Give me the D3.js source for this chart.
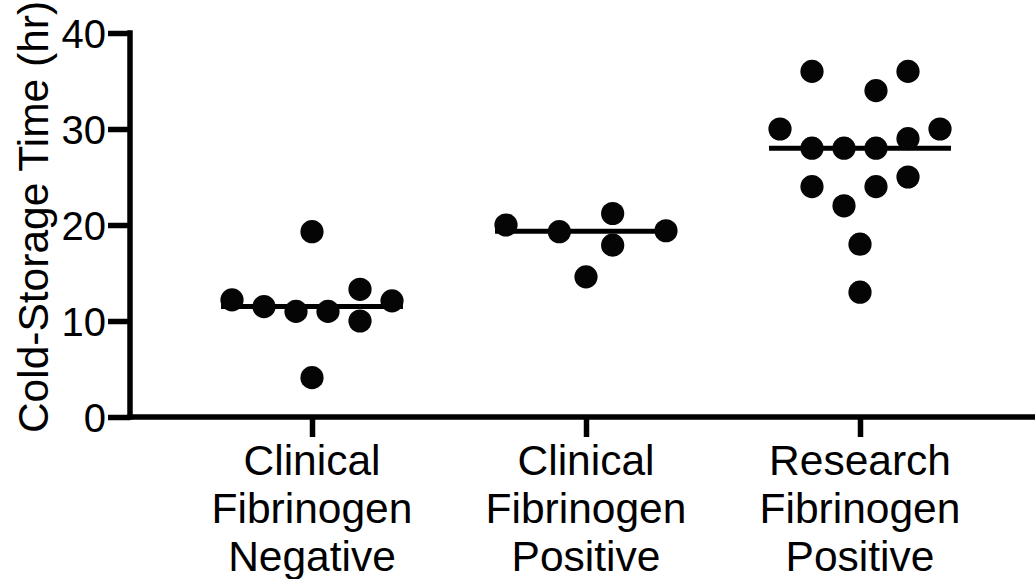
<!DOCTYPE html>
<html>
<head>
<meta charset="utf-8">
<script src="https://cdn.jsdelivr.net/npm/d3@7"></script>
<style>
    body { margin: 0; background: #fff; }
    svg { display: block; }
</style>
</head>
<body>
<div id="chart"></div>
<script>
// groups on the x axis
const categories = [
    "Clinical Fibrinogen Negative",
    "Clinical Fibrinogen Positive",
    "Research Fibrinogen Positive"
];

// cold-storage time (hr) per sample
const negValues = [12.2, 11.5, 11.0, 11.0, 13.3, 10.0, 12.1, 19.3, 4.1];
const posValues = [20.0, 19.3, 21.2, 17.9, 19.4, 14.6];
const resValues = [36, 36, 34, 30, 30, 28, 28, 28, 29, 24, 24, 25, 22, 18, 13];

// horizontal spread of each dot inside its group, -1 .. 1
const negSpread = [-1, -0.6, -0.2, 0.2, 0.6, 0.6, 1, 0, 0];
const posSpread = [-1, -1 / 3, 1 / 3, 1 / 3, 1, 0];
const resSpread = [-0.6, 0.6, 0.2, -1, 1, -0.6, -0.2, 0.2, 0.6, -0.6, 0.2, 0.6, -0.2, 0, 0];

const yTicks = [0, 10, 20, 30, 40];

function drawChart() {
    const W = 1035, H = 579;
    const margin = {top: 33, left: 130, bottom: 162};
    const font = "'Liberation Sans', Arial, Helvetica, sans-serif";

    const svg = d3.select("#chart")
        .append("svg")
        .attr("width", W)
        .attr("height", H);

    const groups = categories.map((c, i) => ({
        name: c,
        values: [negValues, posValues, resValues][i],
        spread: [negSpread, posSpread, resSpread][i]
    }));

    // scales
    const x = d3.scalePoint()
        .domain(categories)
        .range([175, 997])
        .padding(0.5);
    const y = d3.scaleLinear()
        .domain([0, 40])
        .range([H - margin.bottom, margin.top]);
    const jitter = d3.scaleLinear()
        .domain([-1, 1])
        .range([-80, 80]);

    // Y axis
    const yAxis = svg.append("g")
        .attr("transform", `translate(${margin.left}, 0)`)
        .call(d3.axisLeft(y).tickValues(yTicks).tickSize(22).tickPadding(2).tickSizeOuter(0));
    yAxis.select(".domain").remove();
    yAxis.append("line")
        .attr("x1", 0).attr("x2", 0)
        .attr("y1", y(40) - 2.75).attr("y2", y(0) + 2.75)
        .attr("stroke", "#000").attr("stroke-width", 5.5);
    yAxis.selectAll(".tick line").attr("stroke", "#000").attr("stroke-width", 5.5);
    yAxis.selectAll(".tick text")
        .attr("fill", "#000")
        .style("font-family", font)
        .style("font-size", "40px")
        .attr("dy", "0.36em");

    // X axis
    const xAxis = svg.append("g")
        .attr("transform", `translate(0, ${y(0)})`)
        .call(d3.axisBottom(x).tickSize(20).tickFormat(""));
    xAxis.select(".domain").remove();
    xAxis.append("line")
        .attr("x1", margin.left - 2.75).attr("x2", W)
        .attr("y1", 0).attr("y2", 0)
        .attr("stroke", "#000").attr("stroke-width", 5.5);
    xAxis.selectAll(".tick line").attr("stroke", "#000").attr("stroke-width", 5.5);

    // category labels, one word per line
    svg.append("g").selectAll("text")
        .data(categories)
        .join("text")
        .attr("x", (d) => x(d))
        .attr("y", y(0) + 58)
        .attr("text-anchor", "middle")
        .style("font-family", font)
        .style("font-size", "42.5px")
        .attr("fill", "#000")
        .selectAll("tspan")
        .data((d) => d.split(" ").map((w) => ({w: w, cx: x(d)})))
        .join("tspan")
        .attr("x", (d) => d.cx)
        .attr("dy", (d, i) => i === 0 ? 0 : 48)
        .text((d) => d.w);

    // Y axis title
    svg.append("text")
        .attr("transform", `translate(48, 217) rotate(-90)`)
        .attr("text-anchor", "middle")
        .style("font-family", font)
        .style("font-size", "42.5px")
        .attr("fill", "#000")
        .text("Cold-Storage Time (hr)");

    // median lines
    svg.append("g").selectAll("line")
        .data(groups)
        .join("line")
        .attr("x1", (d) => x(d.name) - x.step() * 0.332)
        .attr("x2", (d) => x(d.name) + x.step() * 0.332)
        .attr("y1", (d) => y(d3.median(d.values)))
        .attr("y2", (d) => y(d3.median(d.values)))
        .attr("stroke", "#000")
        .attr("stroke-width", 5);

    // dots
    svg.append("g").selectAll("circle")
        .data(groups.flatMap((g) => g.values.map((v, i) => ({name: g.name, v: v, s: g.spread[i]}))))
        .join("circle")
        .attr("cx", (d) => x(d.name) + jitter(d.s))
        .attr("cy", (d) => y(d.v))
        .attr("r", 11.6)
        .attr("fill", "#050505");
}
drawChart()
</script>
</body>
</html>
